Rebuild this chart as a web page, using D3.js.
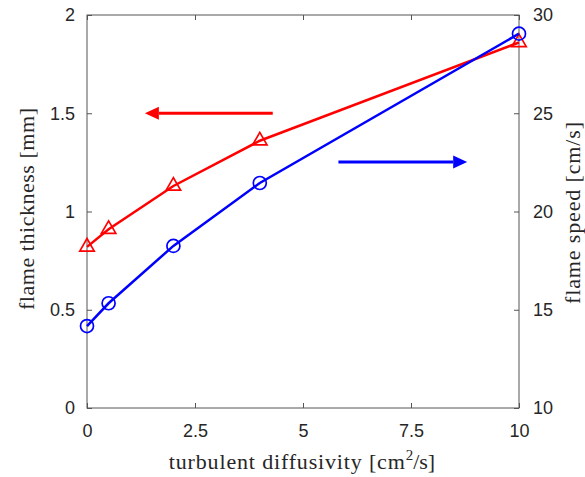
<!DOCTYPE html>
<html><head><meta charset="utf-8">
<script src="https://cdn.jsdelivr.net/npm/d3@7"></script>
<style>body{margin:0;background:#fff}svg{display:block}</style>
</head><body>
<script>
const diffusivity = [0, 0.5, 2, 4, 10];
const thickness = [0.82, 0.91, 1.13, 1.36, 1.86];
const speed = [14.17, 15.33, 18.25, 21.45, 29.05];
const xTicks = [0, 2.5, 5, 7.5, 10];
const leftTicks = [0, 0.5, 1, 1.5, 2];
const rightTicks = [10, 15, 20, 25, 30];

const W = 585, H = 477;
const m = {l: 87, r: 519, t: 15, b: 408};
const svg = d3.select("body").append("svg").attr("width", W).attr("height", H);
const x = d3.scaleLinear().domain([0, 10]).range([m.l, m.r]);
const yL = d3.scaleLinear().domain([0, 2]).range([m.b, m.t]);
const yR = d3.scaleLinear().domain([10, 30]).range([m.b, m.t]);
const axCol = "#262626";
const tickFont = "'Liberation Sans', Arial, sans-serif";
const labFont = "'Liberation Serif', 'DejaVu Serif', serif";

// frame
svg.append("rect").attr("x", m.l).attr("y", m.t).attr("width", m.r - m.l).attr("height", m.b - m.t)
  .attr("fill", "none").attr("stroke", "#555").attr("stroke-width", 1);

function styleAxis(g) {
  g.select(".domain").remove();
  g.selectAll(".tick line").attr("stroke", "#555");
  g.selectAll(".tick text").attr("fill", axCol).style("font-family", tickFont).style("font-size", "18px");
}
const fmt = d => String(d);
svg.append("g").attr("transform", `translate(0,${m.b})`)
  .call(d3.axisBottom(x).tickValues(xTicks).tickFormat(fmt).tickSizeInner(-5).tickPadding(16))
  .call(styleAxis);
svg.append("g").attr("transform", `translate(0,${m.t})`)
  .call(d3.axisTop(x).tickValues(xTicks).tickFormat("").tickSizeInner(-5))
  .call(styleAxis);
svg.append("g").attr("transform", `translate(${m.l},0)`)
  .call(d3.axisLeft(yL).tickValues(leftTicks).tickFormat(fmt).tickSizeInner(-5).tickPadding(12))
  .call(styleAxis);
svg.append("g").attr("transform", `translate(${m.r},0)`)
  .call(d3.axisRight(yR).tickValues(rightTicks).tickFormat(fmt).tickSizeInner(-5).tickPadding(14))
  .call(styleAxis);

// series
const red = "#ff0000", blue = "#0000ff";
const ptsR = diffusivity.map((d, i) => [x(d), yL(thickness[i])]);
const ptsB = diffusivity.map((d, i) => [x(d), yR(speed[i])]);
svg.append("path").attr("d", d3.line()(ptsR)).attr("fill", "none").attr("stroke", red).attr("stroke-width", 2.5);
svg.selectAll(".tri").data(ptsR).enter().append("path")
  .attr("transform", d => `translate(${d[0]},${d[1]})`)
  .attr("d", d3.symbol().type(d3.symbolTriangle).size(90))
  .attr("fill", "none").attr("stroke", red).attr("stroke-width", 1.7);
svg.append("path").attr("d", d3.line()(ptsB)).attr("fill", "none").attr("stroke", blue).attr("stroke-width", 2.5);
svg.selectAll(".circ").data(ptsB).enter().append("circle")
  .attr("cx", d => d[0]).attr("cy", d => d[1]).attr("r", 6.5)
  .attr("fill", "none").attr("stroke", blue).attr("stroke-width", 1.7);

// arrows
function arrow(x0, x1, yy, col) {
  const dir = Math.sign(x1 - x0);
  const hl = 14, hw = 6.5;
  svg.append("line").attr("x1", x0).attr("x2", x1 - dir * hl).attr("y1", yy).attr("y2", yy)
    .attr("stroke", col).attr("stroke-width", 2.8);
  svg.append("path").attr("d", `M${x1},${yy}L${x1 - dir * hl},${yy - hw}L${x1 - dir * hl},${yy + hw}Z`).attr("fill", col);
}
arrow(x(4.3), x(1.34), yL(1.5), red);
arrow(x(5.82), x(8.8), yR(22.52), blue);

// labels
const xl = svg.append("text").attr("x", 302).attr("y", 469).attr("text-anchor", "middle")
  .attr("fill", axCol).style("font-family", labFont).style("font-size", "22px");
xl.append("tspan").text("turbulent diffusivity [cm").attr("textLength", 236).attr("lengthAdjust", "spacing");
xl.append("tspan").text("2").attr("dy", -9).style("font-size", "15px");
xl.append("tspan").text("/s]").attr("dy", 9);
svg.append("text").attr("transform", `translate(34,209) rotate(-90)`).attr("text-anchor", "middle")
  .attr("fill", axCol).style("font-family", labFont).style("font-size", "22px")
  .attr("textLength", 202).attr("lengthAdjust", "spacing").text("flame thickness [mm]");
svg.append("text").attr("transform", `translate(580,213) rotate(-90)`).attr("text-anchor", "middle")
  .attr("fill", axCol).style("font-family", labFont).style("font-size", "22px")
  .attr("textLength", 182).attr("lengthAdjust", "spacing").text("flame speed [cm/s]");
</script>
</body></html>
